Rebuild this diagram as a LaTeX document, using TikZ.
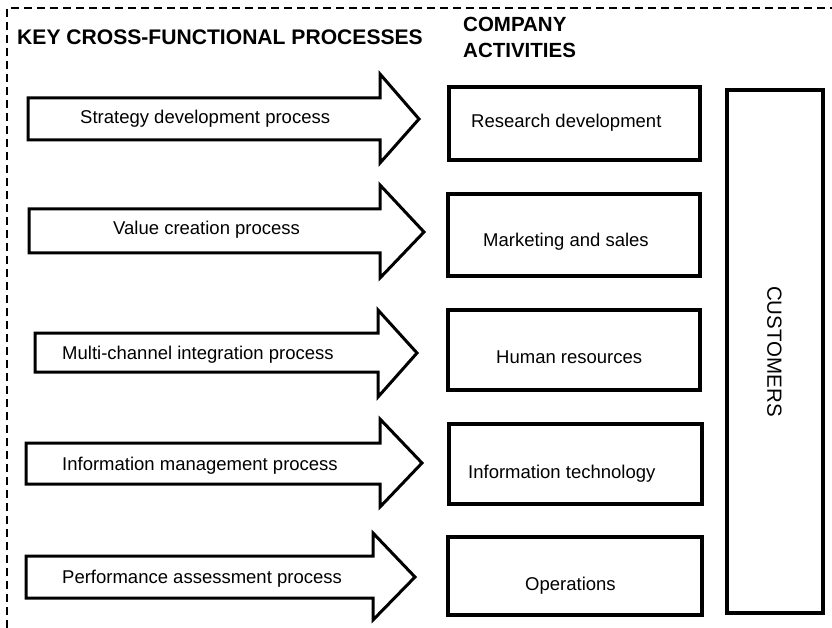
\documentclass[tikz,border=0pt]{standalone}
\usepackage{fontspec}
\setmainfont{Liberation Sans}
\begin{document}
\begin{tikzpicture}[x=1pt,y=-1pt,
  frame/.style={line width=1.2pt, dash pattern=on 8pt off 5pt},
  procarrow/.style={draw, line width=3pt, line join=miter, fill=white},
  actbox/.style={draw, line width=3.6pt, fill=white},
  lbl/.style={inner sep=0pt, anchor=base west, font=\fontsize{18.5}{22}\selectfont},
  head/.style={inner sep=0pt, anchor=base west, font=\fontsize{20.5}{24}\selectfont\bfseries},
]
\useasboundingbox (0,0) rectangle (832,628);
\fill[white] (0,0) rectangle (832,628);
% dashed frame (top and left edges visible)
\coordinate (fa) at (7,628);
\coordinate (fb) at (7,8);
\coordinate (fc) at (832,8);
\draw[frame] (fa) -- (fb) -- (fc);

% headings
\node[head, font=\fontsize{21.1}{24}\selectfont\bfseries] (t1) at (17,45) {KEY CROSS-FUNCTIONAL PROCESSES};
\node[head] (t2) at (463,32) {COMPANY};
\node[head] (t3) at (463,58) {ACTIVITIES};

% process arrows
\draw[procarrow] (28,98) -- (380,98) -- (380,74) -- (419,119) -- (380,163) -- (380,140) -- (28,140) -- cycle;
\node[lbl] (p1) at (80,124) {Strategy development process};

\draw[procarrow] (29,209) -- (380,209) -- (380,185) -- (424,232) -- (380,278) -- (380,253) -- (29,253) -- cycle;
\node[lbl] (p2) at (113,235) {Value creation process};

\draw[procarrow] (35,333) -- (378,333) -- (378,310) -- (417,353) -- (378,397) -- (378,372) -- (35,372) -- cycle;
\node[lbl] (p3) at (62,359) {Multi-channel integration process};

\draw[procarrow] (26,443) -- (380,443) -- (380,419) -- (422,463) -- (380,507) -- (380,484) -- (26,484) -- cycle;
\node[lbl] (p4) at (62,470) {Information management process};

\draw[procarrow] (26,556) -- (373,556) -- (373,533) -- (415,577) -- (373,620) -- (373,598) -- (26,598) -- cycle;
\node[lbl] (p5) at (62,583) {Performance assessment process};

% company activity boxes
\draw[actbox] (449,87) rectangle (700,160);
\node[lbl] (a1) at (471,128) {Research development};

\draw[actbox] (448,194) rectangle (700,276);
\node[lbl] (a2) at (483,247) {Marketing and sales};

\draw[actbox] (448,310) rectangle (700,390);
\node[lbl] (a3) at (496,363) {Human resources};

\draw[actbox] (449,424) rectangle (702,504);
\node[lbl] (a4) at (468,478) {Information technology};

\draw[actbox] (448,537) rectangle (702,615);
\node[lbl] (a5) at (525,590) {Operations};

% customers
\draw[actbox] (727,90) rectangle (823,613);
\node[inner sep=0pt, rotate=-90, font=\fontsize{20.5}{24}\selectfont] (cu) at (774.5,351.5) {CUSTOMERS};
\end{tikzpicture}
\end{document}
